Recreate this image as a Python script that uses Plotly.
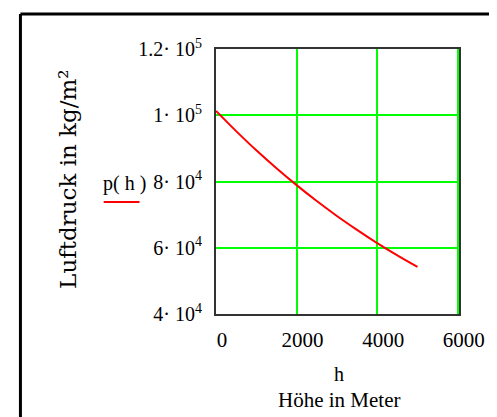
import plotly.graph_objects as go

# Data
h_values = [0, 500, 1000, 1500, 2000, 2500, 3000, 3500, 4000, 4500, 5000]
p_values = [101300, 95200, 89400, 84000, 78900, 74100, 69600, 65400, 61400, 57700, 54200]

x_tickvals = [0, 2000, 4000, 6000]
x_ticktext = ["0", "2000", "4000", "6000"]
y_tickvals = [40000, 60000, 80000, 100000, 120000]
y_ticktext = ["4· 10<sup>4</sup>", "6· 10<sup>4</sup>", "8· 10<sup>4</sup>",
              "1· 10<sup>5</sup>", "1.2· 10<sup>5</sup>"]

# the page body has an 8px default margin; compensate so the figure lines up
OFF = 8
W, H = 497 - OFF, 417 - OFF
L, R, T, B = 216 - OFF, 467 - OFF, 49 - OFF, 314 - OFF


def px(x):
    return (x - OFF - L) / (R - L)


def py(y):
    return (B - (y - OFF)) / (B - T)


SERIF = "Liberation Serif"

fig = go.Figure()
fig.add_trace(go.Scatter(x=h_values, y=p_values, mode="lines",
                         line=dict(color="#ff0000", width=2), showlegend=False,
                         line_shape="spline"))

fig.update_layout(
    width=W, height=H,
    margin=dict(l=L, r=W - R, t=T, b=H - B),
    paper_bgcolor="white", plot_bgcolor="white",
    font=dict(family=SERIF, color="black", size=20),
    xaxis=dict(range=[0, 6030], tickvals=x_tickvals, ticktext=x_ticktext,
               showgrid=True, gridcolor="#00ff00", gridwidth=2,
               showline=True, linecolor="#333333", linewidth=2, mirror=True,
               zeroline=False, ticks="", ticklabelshift=6, ticklabelstandoff=6,
               tickfont=dict(family=SERIF, size=21)),
    yaxis=dict(range=[40000, 120000], tickvals=y_tickvals, ticktext=y_ticktext,
               showgrid=True, gridcolor="#00ff00", gridwidth=2,
               showline=True, linecolor="#333333", linewidth=2, mirror=True,
               zeroline=False, ticks="", ticklabelstandoff=8,
               tickfont=dict(family=SERIF, size=20)),
)

ann = [
    dict(text="Luftdruck in kg/m²", x=px(63), y=py(179), textangle=-90,
         font=dict(family="DejaVu Serif", size=23)),
    dict(text="p( h )", x=px(121), y=py(183), font=dict(size=20)),
    dict(text="h", x=px(343), y=py(374), font=dict(size=20)),
    dict(text="Höhe in Meter", x=px(343), y=py(400), font=dict(size=21)),
]
for a in ann:
    fig.add_annotation(xref="paper", yref="paper", showarrow=False,
                       xanchor="center", yanchor="middle", **a)

# legend line under p(h)
fig.add_shape(type="line", xref="paper", yref="paper",
              x0=px(100), x1=px(137), y0=py(202), y1=py(202),
              line=dict(color="#ff0000", width=2))
# outer frame (top and left edges)
fig.add_shape(type="line", xref="paper", yref="paper",
              x0=px(14), x1=px(520), y0=py(14), y1=py(14),
              line=dict(color="black", width=3))
fig.add_shape(type="line", xref="paper", yref="paper",
              x0=px(14), x1=px(14), y0=py(14), y1=py(440),
              line=dict(color="black", width=3))

fig.write_html("out.html")
